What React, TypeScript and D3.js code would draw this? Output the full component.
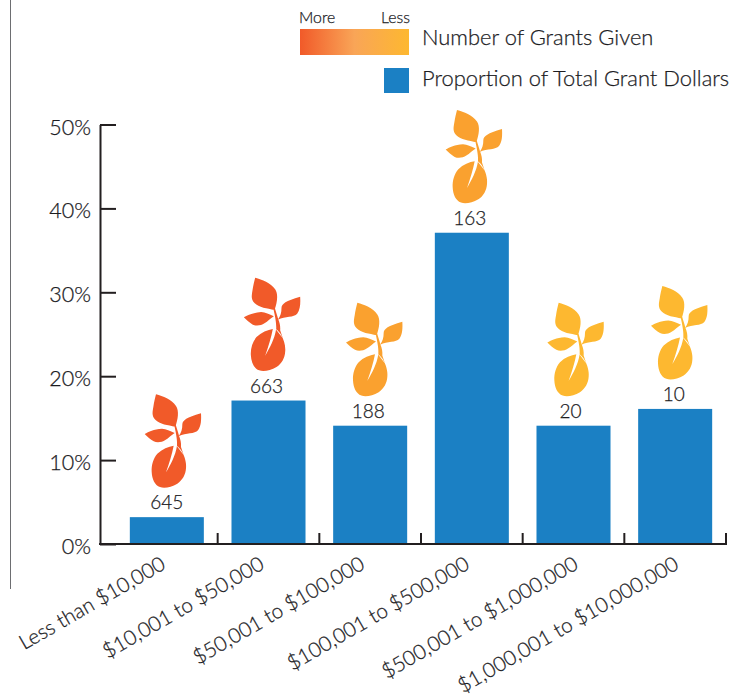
import { useEffect, useRef } from "react";
import * as d3 from "d3";

const categories = [
  "Less than $10,000",
  "$10,001 to $50,000",
  "$50,001 to $100,000",
  "$100,001 to $500,000",
  "$500,001 to $1,000,000",
  "$1,000,001 to $10,000,000",
];
const proportions = [3.2, 17.1, 14.1, 37.1, 14.1, 16.1];
const grantCounts = [645, 663, 188, 163, 20, 10];
const yTicks = [0, 10, 20, 30, 40, 50];

const WIDTH = 744;
const HEIGHT = 696;
const PAD = { left: 100, axisStart: 116, right: 726, top: 124.5, bottom: 544 };
const BLUE = "#1b80c4";
const RED = "#f15a29";
const ORANGE = "#faa12f";
const YELLOW = "#fdb830";
const TEXT = "#1c1c1f";
const AXIS = "#231f20";
const FONT = "Lato, 'Noto Sans', sans-serif";

// the original was hand placed, so each column drifts a little from its bar centre
const ICON_SHIFT = [6, 3.5, 4, 2, 2, 4];
const COUNT_SHIFT = [0, -2, -2, -2, -3, -1.5];
const NAME_SHIFT = [-1, -4, -5, -2, 5, 4];

// seedling glyph, drawn at 3x in a 169 x 280 box
const SEEDLING = [
  "M34,0 C55,6 80,15 94,35 C104,50 100,75 92,97 C70,92 45,90 32,76 C20,65 24,50 26,38 C28,24 31,12 34,0 Z",
  "M169,57 C170,75 170,95 160,108 C150,120 125,115 102,126 C110,115 113,105 113,90 C114,78 125,70 169,57 Z",
  "M0,119 C12,112 27,105 52,103 C65,104 76,110 90,116 C80,122 72,132 62,137 C52,144 37,146 27,141 C17,136 8,126 0,119 Z",
  "M88,90 L93,90 C96,102 100,112 103,124 C108,136 110,146 109,158 L117,182 L97,156 C98,140 96,125 88,90 Z",
  "M87,154 C72,156 52,164 38,178 C26,192 20,212 21,232 C22,254 30,272 46,278 C60,283 80,278 98,268 C114,258 123,240 124,222 C126,205 120,186 112,172 C108,165 104,160 97,154 C92,185 78,210 64,234 C74,205 82,180 87,154 Z",
].join(" ");
const GLYPH_W = 169 / 3;
const GLYPH_H = 280 / 3;

export default function App() {
  const svgRef = useRef<SVGSVGElement | null>(null);

  useEffect(() => {
    const svgEl = svgRef.current;
    if (!svgEl) return;
    const svg = d3.select(svgEl);
    svg.selectAll("*").remove();

    const x = d3.scaleBand<string>().domain(categories).range([PAD.axisStart, PAD.right]).paddingInner(0.272).paddingOuter(0.136);
    const y = d3.scaleLinear().domain([0, 50]).range([PAD.bottom, PAD.top]);
    const iconColor = d3.scaleThreshold<number, string>().domain([100, 500]).range([YELLOW, ORANGE, RED]);
    const rows = categories.map((name, i) => ({ name, value: proportions[i], count: grantCounts[i], i }));
    const mid = (name: string) => (x(name) ?? 0) + x.bandwidth() / 2;

    // frame line on the left
    svg.append("line").attr("x1", 10.5).attr("x2", 10.5).attr("y1", 0).attr("y2", 589).attr("stroke", "#6d6e71").attr("stroke-width", 1);

    // legend
    const grad = svg.append("defs").append("linearGradient").attr("id", "legend-grad");
    grad.append("stop").attr("offset", "0%").attr("stop-color", RED);
    grad.append("stop").attr("offset", "50%").attr("stop-color", "#f9a557");
    grad.append("stop").attr("offset", "100%").attr("stop-color", YELLOW);
    svg.append("rect").attr("x", 300).attr("y", 29).attr("width", 109).attr("height", 26).attr("fill", "url(#legend-grad)");
    svg.append("rect").attr("x", 384).attr("y", 68).attr("width", 25).attr("height", 25).attr("fill", BLUE);
    svg.append("text").attr("x", 299).attr("y", 23).attr("font-size", 15.8).attr("fill", TEXT).text("More");
    svg.append("text").attr("x", 410).attr("y", 23).attr("text-anchor", "end").attr("font-size", 15.8).attr("fill", TEXT).text("Less");
    svg.append("text").attr("x", 422).attr("y", 45).attr("font-size", 21.9).attr("fill", TEXT).text("Number of Grants Given");
    svg.append("text").attr("x", 422).attr("y", 86).attr("font-size", 21.9).attr("fill", TEXT).text("Proportion of Total Grant Dollars");

    // bars
    svg
      .append("g")
      .selectAll("rect")
      .data(rows)
      .join("rect")
      .attr("x", (d) => x(d.name) ?? 0)
      .attr("y", (d) => y(d.value))
      .attr("width", x.bandwidth())
      .attr("height", (d) => y(0) - y(d.value))
      .attr("fill", BLUE);

    // count labels
    svg
      .append("g")
      .selectAll("text")
      .data(rows)
      .join("text")
      .attr("x", (d) => mid(d.name) + COUNT_SHIFT[d.i])
      .attr("y", (d) => y(d.value) - 8)
      .attr("text-anchor", "middle")
      .attr("font-size", 19)
      .attr("fill", TEXT)
      .text((d) => d.count);

    // seedlings
    svg
      .append("g")
      .selectAll("path")
      .data(rows)
      .join("path")
      .attr("d", SEEDLING)
      .attr("fill", (d) => iconColor(d.count))
      .attr("transform", (d) => `translate(${mid(d.name) + ICON_SHIFT[d.i] - GLYPH_W / 2}, ${y(d.value) - 29.5 - GLYPH_H}) scale(${1 / 3})`);

    // y axis
    const gY = svg
      .append("g")
      .attr("transform", `translate(${PAD.left}, 0)`)
      .call(d3.axisLeft(y).tickValues(yTicks).tickSizeInner(-16).tickSizeOuter(0).tickFormat((d) => `${d}%`));
    gY.select(".domain").attr("stroke", AXIS).attr("stroke-width", 2);
    gY.selectAll(".tick line").attr("stroke", AXIS).attr("stroke-width", 2);
    gY.selectAll("text")
      .attr("x", -9)
      .attr("dy", 9.5)
      .attr("font-family", FONT)
      .attr("font-size", 21.5)
      .attr("fill", TEXT);

    // x axis: ticks sit on the band edges, pointing up
    const edges = categories.map((c) => (x(c) ?? 0) + x.bandwidth() + (x.step() - x.bandwidth()) / 2);
    svg.append("line").attr("x1", PAD.left - 1).attr("x2", PAD.right + 1).attr("y1", y(0)).attr("y2", y(0)).attr("stroke", AXIS).attr("stroke-width", 2);
    svg
      .append("g")
      .selectAll("line")
      .data(edges)
      .join("line")
      .attr("x1", (d) => d)
      .attr("x2", (d) => d)
      .attr("y1", y(0))
      .attr("y2", y(0) - 11)
      .attr("stroke", AXIS)
      .attr("stroke-width", 2);

    svg
      .append("g")
      .selectAll("text")
      .data(rows)
      .join("text")
      .attr("transform", (d) => `translate(${mid(d.name) + 1 + NAME_SHIFT[d.i]}, 568) rotate(-30)`)
      .attr("text-anchor", "end")
      .attr("font-size", 20.6)
      .attr("fill", TEXT)
      .text((d) => d.name);

    // Lato Light comes out thinner than the reference's type
    svg.selectAll("text").attr("stroke", TEXT).attr("stroke-width", 0.25);
  }, []);

  return (
    <svg
      ref={svgRef}
      width={WIDTH}
      height={HEIGHT}
      viewBox={`0 0 ${WIDTH} ${HEIGHT}`}
      fontFamily={FONT}
      fontWeight={300}
      style={{ position: "absolute", left: 0, top: 0, background: "#fff" }}
    />
  );
}
